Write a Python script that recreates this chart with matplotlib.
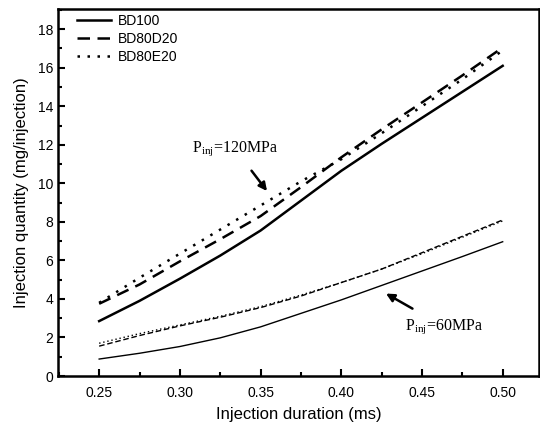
import matplotlib
matplotlib.use("Agg")
import matplotlib.pyplot as plt
from matplotlib.ticker import MultipleLocator

plt.rcParams['font.family'] = ['Liberation Sans', 'DejaVu Sans']
plt.rcParams['mathtext.fontset'] = 'custom'
plt.rcParams['mathtext.rm'] = 'Liberation Serif'
plt.rcParams['mathtext.it'] = 'Liberation Serif'

duration = [0.25, 0.275, 0.30, 0.325, 0.35, 0.375, 0.40, 0.425, 0.45, 0.475, 0.50]

bd100_120 = [2.85, 3.9, 5.05, 6.25, 7.55, 9.1, 10.65, 12.05, 13.4, 14.75, 16.1]
bd80d20_120 = [3.75, 4.75, 5.95, 7.1, 8.3, 9.8, 11.35, 12.8, 14.2, 15.6, 17.05]
bd80e20_120 = [3.8, 5.1, 6.35, 7.6, 8.85, 10.1, 11.25, 12.6, 14.0, 15.4, 16.9]

bd100_60 = [0.88, 1.18, 1.53, 1.98, 2.55, 3.25, 3.95, 4.7, 5.45, 6.2, 6.97]
bd80d20_60 = [1.55, 2.1, 2.6, 3.05, 3.55, 4.15, 4.85, 5.55, 6.4, 7.25, 8.1]
bd80e20_60 = [1.7, 2.2, 2.65, 3.1, 3.6, 4.2, 4.85, 5.55, 6.35, 7.2, 8.05]

labels = ["BD100", "BD80D20", "BD80E20"]

fig = plt.figure(figsize=(5.4, 4.26), dpi=100)
ax = fig.add_axes([58/540, 1-376/426, 481/540, 367/426])

ax.plot(duration, bd100_120, color='black', lw=1.8, ls='-', label=labels[0])
ax.plot(duration, bd80d20_120, color='black', lw=1.8, ls=(0, (5, 3)), label=labels[1])
ax.plot(duration, bd80e20_120, color='black', lw=1.8, ls=(0, (1, 3)), label=labels[2])

ax.plot(duration, bd100_60, color='black', lw=1.0, ls='-')
ax.plot(duration, bd80d20_60, color='black', lw=1.0, ls=(0, (4, 2)))
ax.plot(duration, bd80e20_60, color='black', lw=1.0, ls=(0, (1, 2)))

ax.set_xlim(0.2245, 0.5225)
ax.set_ylim(0, 19.05)
ax.xaxis.set_major_locator(MultipleLocator(0.05))
ax.xaxis.set_minor_locator(MultipleLocator(0.025))
ax.yaxis.set_major_locator(MultipleLocator(2))
ax.yaxis.set_minor_locator(MultipleLocator(1))
ax.set_xticks([0.25, 0.30, 0.35, 0.40, 0.45, 0.50])
ax.set_xticklabels(["0.25", "0.30", "0.35", "0.40", "0.45", "0.50"])
ax.tick_params(which='both', direction='in', width=1.5, labelsize=10)
ax.tick_params(which='major', length=5)
ax.tick_params(which='minor', length=3)
ax.tick_params(axis='x', pad=7)
for s in ax.spines.values():
    s.set_linewidth(1.8)

ax.set_xlabel("Injection duration (ms)", fontsize=12, labelpad=5)
ax.set_ylabel("Injection quantity (mg/injection)", fontsize=12, labelpad=6)

leg = ax.legend(loc='upper left', frameon=False, fontsize=10, handlelength=2.4,
                handletextpad=0.5, labelspacing=0.3, borderaxespad=0.3,
                bbox_to_anchor=(0.02, 1.013))

ax.annotate(r"P$_{\rm inj}$=120MPa", xy=(0.354, 9.6), xytext=(0.334, 11.8),
            fontsize=11.5, family='Liberation Serif', ha='center', va='center',
            arrowprops=dict(arrowstyle='-|>', color='black', lw=1.8, mutation_scale=12,
                            shrinkA=9, shrinkB=0))
ax.annotate(r"P$_{\rm inj}$=60MPa", xy=(0.4277, 4.28), xytext=(0.464, 2.55),
            fontsize=11.5, family='Liberation Serif', ha='center', va='center',
            arrowprops=dict(arrowstyle='-|>', color='black', lw=1.8, mutation_scale=12,
                            shrinkA=9, shrinkB=0))

fig.savefig("out.png", dpi=100)
